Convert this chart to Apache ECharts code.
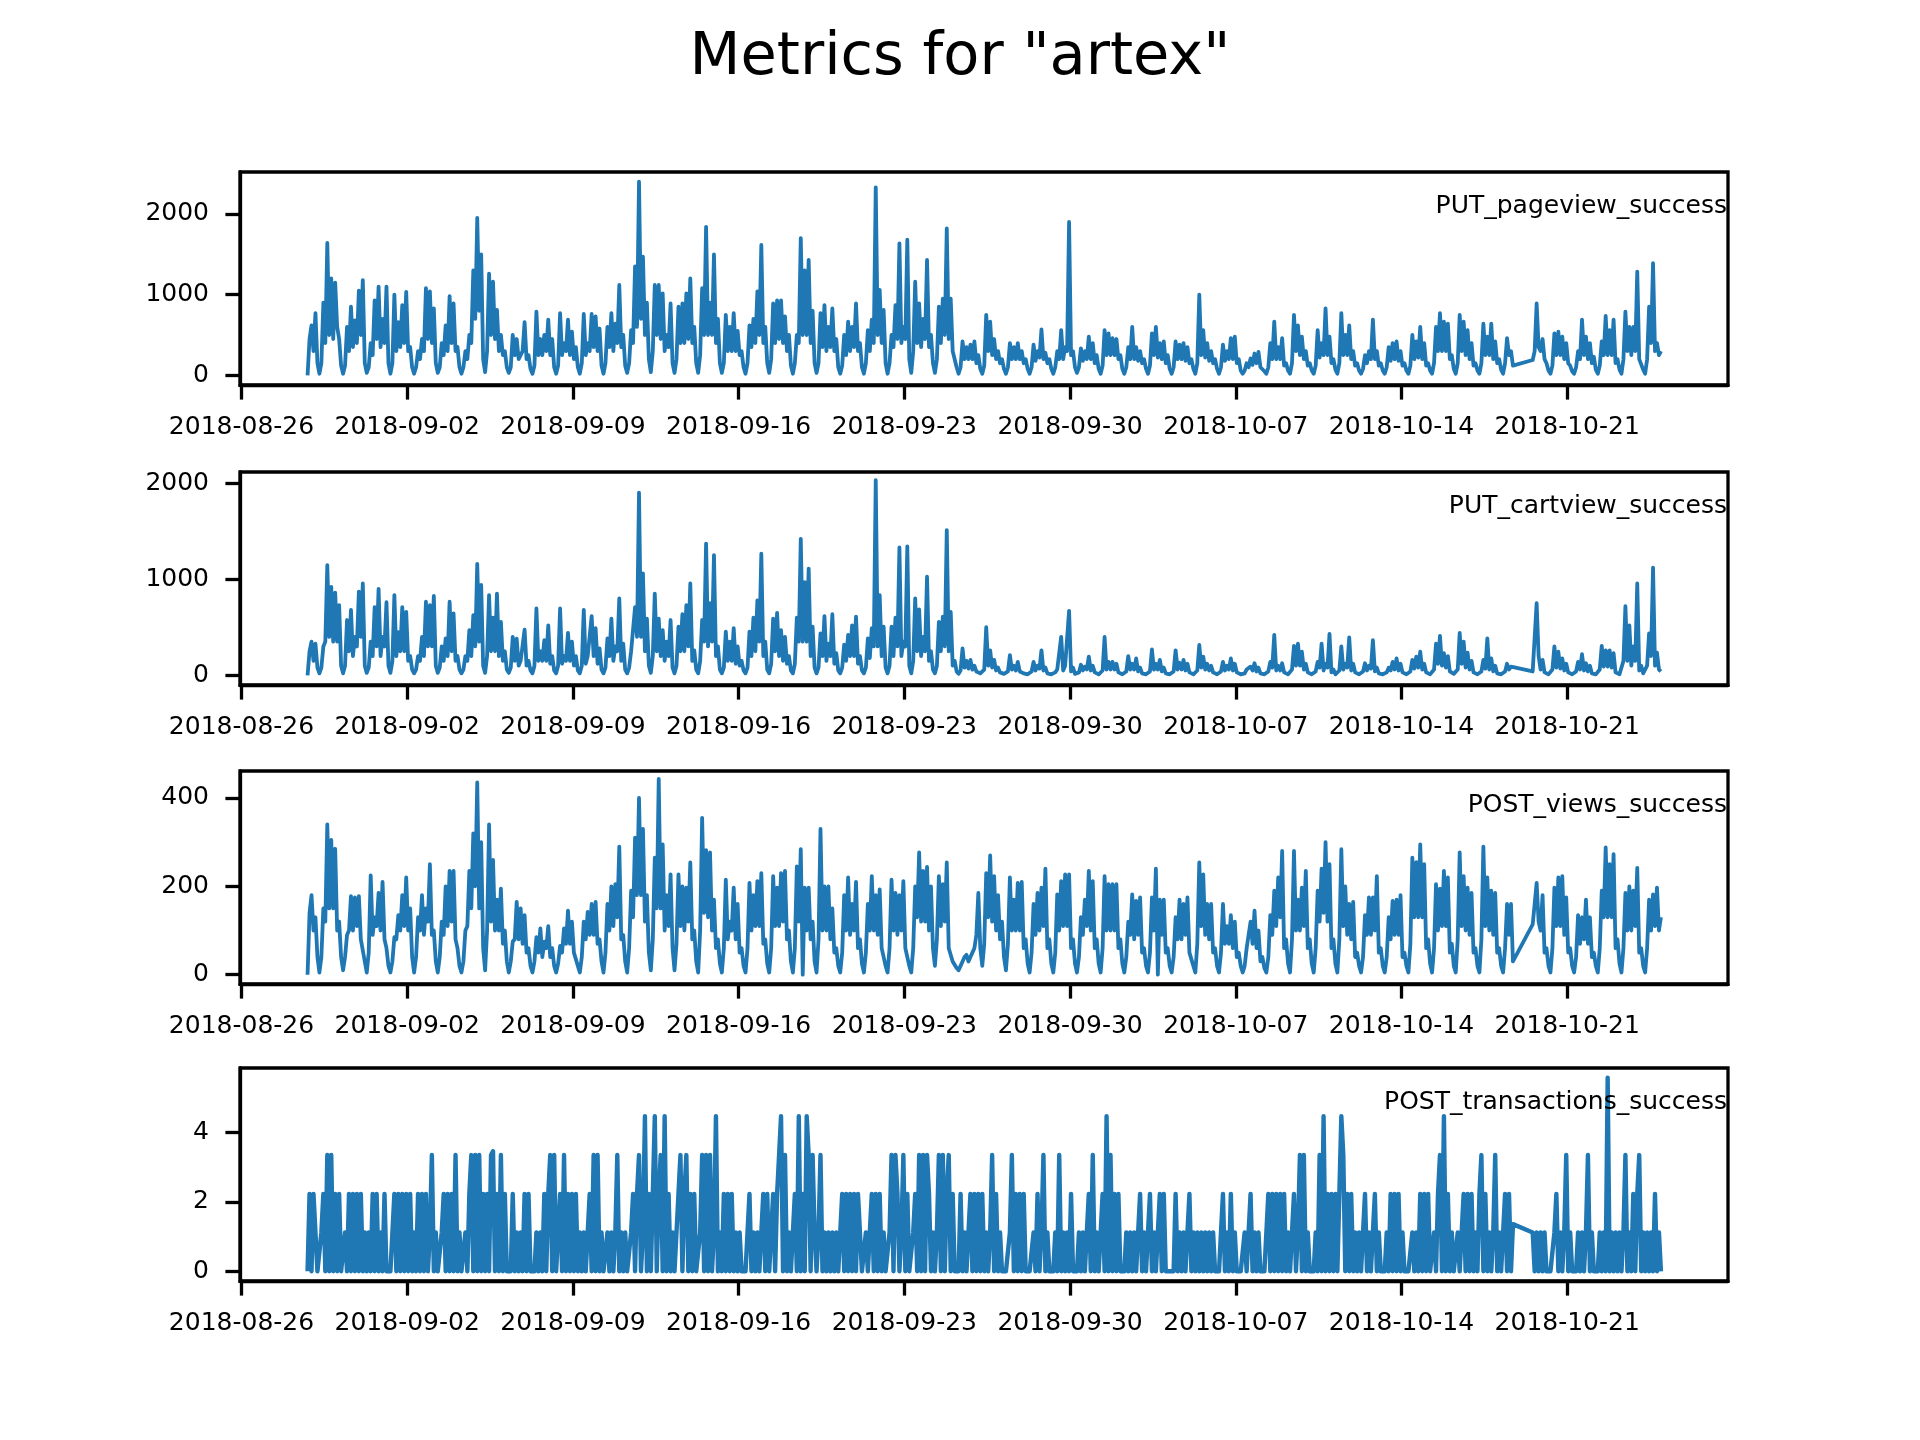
<!DOCTYPE html>
<html>
<head>
<meta charset="utf-8">
<title>Metrics for "artex"</title>
<script src="https://cdn.jsdelivr.net/npm/echarts@6/dist/echarts.min.js"></script>
<style>
html, body { margin: 0; padding: 0; background: #fff; }
#main { width: 1920px; height: 1440px; }
</style>
</head>
<body>
<div id="main"></div>
<script>
// hours counted from 2018-08-26 00:00, first sample 2018-08-28 19:00, one sample every 2 hours
var startHour = 67;
var stepHours = 2;

var weekLabels = ['2018-08-26', '2018-09-02', '2018-09-09', '2018-09-16', '2018-09-23',
                  '2018-09-30', '2018-10-07', '2018-10-14', '2018-10-21'];
var panelNames = ['PUT_pageview_success', 'PUT_cartview_success', 'POST_views_success', 'POST_transactions_success'];

// first row 19h..05h, then one row per day 07h..05h, last row 07h..23h
var pageview = [
  0, 450, 620, 300, 770, 150,
  20, 150, 900, 400, 1640, 500, 1200, 450, 1150, 600, 450, 120,
  20, 120, 600, 300, 850, 350, 680, 400, 1050, 500, 1180, 150,
  30, 100, 400, 250, 930, 450, 1100, 350, 700, 400, 1100, 150,
  20, 150, 1000, 300, 660, 350, 870, 400, 1035, 300, 350, 100,
  20, 100, 300, 200, 450, 300, 1080, 450, 1040, 400, 830, 150,
  30, 100, 400, 250, 620, 300, 980, 400, 890, 300, 350, 100,
  20, 100, 300, 200, 500, 400, 1300, 700, 1950, 800, 1500, 200,
  40, 300, 1260, 500, 1160, 450, 810, 300, 500, 250, 300, 100,
  30, 100, 500, 250, 450, 200, 250, 300, 660, 200, 250, 80,
  20, 120, 790, 250, 450, 250, 500, 300, 690, 250, 450, 100,
  20, 120, 770, 250, 400, 300, 690, 250, 540, 200, 350, 100,
  20, 150, 760, 250, 400, 300, 760, 350, 730, 300, 580, 120,
  20, 150, 600, 350, 770, 300, 640, 400, 1120, 350, 500, 120,
  30, 150, 560, 400, 1350, 600, 2400, 700, 1470, 500, 900, 200,
  40, 300, 1120, 500, 1120, 450, 1015, 300, 500, 350, 890, 150,
  30, 200, 850, 400, 890, 400, 1015, 450, 1200, 400, 600, 150,
  30, 250, 1080, 500, 1840, 500, 900, 500, 1500, 400, 700, 150,
  30, 150, 750, 300, 600, 300, 770, 300, 550, 250, 300, 100,
  20, 150, 620, 350, 700, 400, 1040, 500, 1615, 400, 600, 150,
  30, 200, 890, 400, 930, 450, 930, 400, 730, 300, 500, 120,
  20, 150, 500, 400, 1700, 500, 1300, 500, 1430, 400, 800, 150,
  30, 150, 770, 350, 870, 300, 600, 350, 830, 300, 450, 100,
  20, 120, 500, 250, 665, 300, 600, 350, 890, 300, 400, 100,
  20, 150, 560, 300, 690, 400, 2330, 500, 1060, 400, 810, 150,
  20, 150, 500, 350, 870, 450, 1635, 400, 600, 450, 1680, 200,
  30, 300, 1160, 400, 890, 350, 700, 450, 1430, 350, 500, 150,
  30, 200, 850, 400, 950, 500, 1820, 450, 950, 300, 300, 100,
  20, 100, 420, 200, 350, 200, 380, 200, 420, 150, 250, 80,
  20, 120, 750, 300, 665, 250, 450, 200, 300, 150, 200, 80,
  20, 100, 400, 200, 350, 200, 400, 200, 300, 150, 200, 80,
  20, 100, 380, 180, 300, 220, 570, 200, 280, 150, 200, 80,
  20, 100, 300, 200, 560, 200, 350, 300, 1900, 250, 300, 100,
  30, 100, 335, 180, 300, 200, 480, 200, 400, 150, 250, 80,
  20, 120, 560, 250, 520, 250, 460, 250, 450, 200, 250, 80,
  20, 100, 350, 200, 600, 200, 350, 180, 300, 150, 200, 80,
  20, 120, 520, 250, 600, 220, 400, 200, 420, 150, 250, 80,
  20, 100, 420, 200, 380, 200, 400, 180, 350, 150, 200, 80,
  20, 150, 1000, 250, 560, 220, 400, 180, 300, 150, 200, 80,
  20, 100, 380, 180, 300, 200, 460, 200, 480, 150, 200, 60,
  20, 60, 150, 100, 210, 130, 270, 150, 290, 100, 120, 50,
  20, 100, 400, 200, 665, 200, 350, 200, 460, 120, 150, 60,
  20, 150, 750, 300, 620, 250, 480, 200, 300, 120, 150, 60,
  20, 120, 560, 220, 400, 250, 830, 250, 480, 150, 200, 70,
  20, 150, 770, 250, 500, 250, 620, 200, 300, 120, 150, 60,
  20, 80, 250, 150, 300, 200, 690, 200, 300, 120, 150, 60,
  20, 100, 350, 180, 400, 200, 420, 180, 300, 120, 150, 60,
  20, 120, 500, 200, 420, 220, 600, 200, 400, 120, 150, 60,
  20, 150, 600, 300, 770, 300, 665, 300, 640, 200, 250, 80,
  20, 150, 750, 300, 665, 250, 560, 200, 400, 120, 150, 60,
  20, 150, 640, 250, 480, 250, 640, 200, 420, 150, 200, 70,
  20, 150, 460, 250, 300, 120, null, null, null, null, null, null,
  null, null, null, 190, 300, 890, 350, 300, 450, 200, 150, 60,
  20, 120, 520, 250, 540, 250, 480, 200, 400, 150, 120, 50,
  20, 100, 300, 200, 690, 250, 480, 200, 400, 150, 230, 70,
  20, 120, 420, 250, 735, 250, 560, 250, 690, 150, 200, 70,
  20, 200, 790, 300, 600, 250, 600, 300, 1285, 200, 200, 70,
  20, 200, 850, 400, 1390, 300, 400, 250, 300
];

var cartview = [
  0, 250, 350, 150, 330, 80,
  20, 80, 300, 350, 1145, 400, 920, 350, 860, 350, 730, 100,
  20, 100, 575, 250, 680, 200, 400, 300, 870, 400, 955, 100,
  25, 80, 350, 200, 710, 300, 900, 200, 400, 300, 760, 100,
  25, 150, 835, 200, 450, 250, 710, 250, 660, 150, 200, 60,
  20, 60, 200, 150, 400, 200, 765, 300, 730, 300, 825, 100,
  25, 80, 300, 150, 385, 200, 765, 250, 645, 150, 200, 60,
  20, 60, 200, 150, 470, 200, 625, 300, 1160, 350, 940, 100,
  25, 200, 835, 250, 600, 250, 850, 200, 555, 150, 250, 60,
  25, 80, 400, 150, 380, 100, 150, 150, 475, 100, 150, 50,
  20, 100, 695, 150, 250, 150, 365, 150, 520, 120, 200, 50,
  20, 100, 695, 120, 200, 150, 440, 150, 350, 100, 200, 50,
  20, 100, 680, 120, 200, 200, 615, 200, 490, 120, 280, 60,
  20, 80, 385, 200, 590, 150, 300, 250, 800, 150, 330, 60,
  20, 80, 250, 250, 710, 400, 1900, 400, 1060, 250, 590, 100,
  25, 200, 850, 250, 590, 200, 470, 150, 350, 200, 575, 80,
  20, 100, 505, 250, 635, 250, 730, 300, 955, 150, 260, 60,
  20, 150, 575, 350, 1370, 300, 750, 350, 1250, 200, 300, 60,
  20, 80, 455, 150, 350, 150, 490, 120, 300, 100, 150, 50,
  20, 80, 455, 200, 600, 250, 780, 350, 1265, 200, 350, 60,
  20, 120, 590, 250, 650, 200, 470, 150, 400, 120, 200, 50,
  20, 120, 600, 350, 1420, 350, 970, 350, 1110, 200, 505, 80,
  20, 80, 435, 200, 615, 150, 330, 200, 635, 120, 230, 50,
  20, 80, 320, 150, 420, 200, 520, 200, 610, 120, 200, 50,
  20, 80, 385, 180, 490, 300, 2030, 300, 835, 200, 505, 80,
  20, 100, 505, 200, 600, 300, 1330, 200, 350, 300, 1340, 100,
  20, 150, 800, 250, 685, 200, 400, 250, 1025, 150, 250, 60,
  20, 100, 555, 250, 610, 300, 1510, 250, 660, 100, 150, 40,
  15, 50, 280, 80, 150, 70, 160, 60, 100, 40, 60, 20,
  10, 60, 500, 100, 260, 80, 160, 50, 80, 30, 40, 15,
  10, 40, 210, 60, 100, 50, 140, 40, 60, 20, 30, 10,
  10, 40, 140, 50, 100, 70, 260, 50, 80, 20, 30, 10,
  10, 30, 60, 80, 400, 50, 100, 80, 670, 40, 80, 15,
  10, 30, 110, 50, 90, 60, 195, 50, 100, 30, 40, 10,
  10, 50, 400, 60, 140, 60, 140, 60, 120, 30, 40, 10,
  10, 40, 200, 60, 120, 60, 175, 40, 80, 20, 30, 10,
  10, 40, 270, 60, 120, 60, 160, 40, 80, 20, 30, 10,
  10, 40, 260, 60, 130, 60, 160, 50, 120, 30, 40, 10,
  10, 50, 315, 80, 195, 60, 120, 50, 100, 30, 40, 10,
  10, 40, 140, 50, 100, 60, 175, 50, 120, 30, 40, 10,
  10, 20, 60, 40, 90, 50, 125, 40, 80, 20, 30, 10,
  10, 40, 140, 80, 420, 50, 100, 50, 125, 30, 40, 10,
  10, 60, 305, 100, 330, 100, 245, 60, 120, 30, 40, 10,
  10, 40, 140, 80, 330, 50, 120, 80, 430, 30, 60, 10,
  10, 50, 300, 60, 120, 80, 395, 50, 120, 30, 40, 10,
  10, 40, 125, 50, 100, 70, 365, 40, 80, 20, 30, 10,
  10, 30, 80, 50, 140, 60, 175, 50, 120, 30, 40, 10,
  10, 40, 160, 70, 195, 80, 245, 60, 120, 30, 40, 10,
  10, 60, 330, 120, 410, 100, 230, 80, 200, 40, 50, 15,
  10, 60, 440, 120, 350, 80, 235, 60, 150, 30, 40, 10,
  10, 40, 160, 70, 385, 60, 175, 40, 100, 20, 30, 10,
  10, 40, 120, 60, 90, 70, null, null, null, null, null, null,
  null, null, null, 40, 60, 750, 200, 60, 160, 30, 40, 10,
  10, 60, 300, 80, 245, 70, 175, 50, 120, 30, 40, 10,
  10, 40, 140, 60, 220, 50, 125, 40, 100, 20, 30, 10,
  10, 60, 305, 90, 260, 90, 260, 80, 230, 30, 40, 10,
  10, 150, 720, 150, 520, 100, 300, 150, 955, 50, 100, 20,
  10, 100, 435, 200, 1120, 100, 235, 60, 40
];

var views = [
  0, 140, 180, 100, 130, 40,
  5, 40, 150, 120, 340, 150, 305, 150, 285, 100, 120, 40,
  10, 40, 90, 100, 178, 100, 175, 110, 178, 80, 80, 30,
  5, 50, 225, 90, 130, 110, 185, 100, 210, 80, 60, 20,
  5, 30, 85, 80, 135, 100, 180, 110, 220, 100, 150, 40,
  5, 40, 130, 100, 180, 90, 150, 120, 250, 90, 100, 30,
  5, 40, 120, 90, 200, 110, 235, 120, 235, 80, 60, 20,
  5, 30, 100, 110, 235, 150, 320, 200, 435, 150, 300, 60,
  10, 100, 340, 120, 260, 100, 170, 100, 195, 70, 100, 30,
  5, 30, 75, 80, 165, 80, 150, 70, 135, 50, 60, 20,
  5, 30, 85, 50, 105, 40, 75, 60, 110, 40, 60, 20,
  5, 25, 65, 50, 105, 70, 145, 70, 120, 50, 50, 20,
  5, 40, 120, 80, 142, 90, 160, 90, 165, 70, 80, 30,
  5, 50, 160, 100, 200, 110, 205, 130, 290, 80, 90, 30,
  5, 60, 190, 130, 310, 180, 400, 180, 330, 120, 180, 50,
  10, 80, 265, 150, 443, 150, 295, 100, 180, 110, 227, 60,
  10, 70, 227, 110, 200, 100, 197, 120, 254, 80, 100, 30,
  5, 100, 355, 140, 282, 130, 277, 100, 170, 60, 80, 25,
  5, 60, 215, 80, 120, 100, 197, 80, 160, 50, 60, 20,
  5, 60, 208, 100, 180, 110, 212, 110, 230, 70, 80, 25,
  5, 60, 223, 110, 197, 110, 230, 120, 235, 80, 100, 30,
  5, 60, 245, 120, 284, 0, 197, 100, 197, 80, 120, 30,
  5, 80, 330, 100, 200, 100, 200, 80, 150, 50, 60, 20,
  5, 50, 180, 100, 220, 90, 160, 100, 210, 60, 80, 25,
  5, 50, 160, 100, 223, 100, 180, 90, 193, 60, 60, 20,
  5, 60, 215, 100, 185, 90, 180, 100, 212, 60, 60, 20,
  5, 60, 200, 130, 277, 120, 235, 120, 244, 100, 200, 60,
  20, 80, 223, 110, 205, 120, 254, 60, 60, 30, 30, 15,
  10, 20, 30, 40, 45, 30, 40, 50, 60, 90, 185, 60,
  20, 70, 230, 130, 270, 120, 223, 100, 180, 80, 120, 40,
  10, 70, 220, 100, 170, 100, 208, 100, 210, 60, 80, 25,
  5, 50, 160, 90, 185, 100, 197, 110, 240, 60, 80, 25,
  5, 50, 182, 100, 212, 110, 227, 110, 227, 60, 80, 25,
  5, 40, 130, 90, 170, 110, 235, 100, 212, 60, 80, 25,
  5, 60, 223, 100, 205, 100, 205, 100, 205, 60, 80, 25,
  5, 40, 120, 90, 182, 80, 167, 90, 175, 50, 60, 20,
  5, 50, 175, 100, 240, 0, 170, 90, 170, 50, 60, 20,
  5, 40, 130, 80, 170, 80, 160, 90, 175, 50, 50, 20,
  5, 70, 254, 110, 227, 90, 160, 80, 160, 50, 60, 20,
  5, 50, 160, 70, 110, 70, 135, 60, 120, 40, 50, 20,
  5, 20, 60, 60, 120, 70, 145, 60, 100, 30, 40, 15,
  5, 40, 135, 90, 190, 110, 220, 130, 280, 60, 80, 25,
  5, 80, 280, 100, 170, 100, 197, 110, 235, 60, 80, 25,
  5, 60, 190, 120, 240, 140, 300, 120, 250, 60, 80, 25,
  5, 80, 284, 110, 200, 90, 160, 80, 165, 40, 50, 20,
  5, 40, 135, 90, 175, 90, 175, 100, 223, 50, 60, 20,
  5, 40, 130, 80, 167, 90, 170, 90, 180, 40, 50, 20,
  5, 70, 265, 130, 255, 130, 295, 130, 250, 60, 80, 25,
  5, 60, 205, 100, 195, 110, 235, 110, 220, 50, 70, 20,
  5, 80, 277, 110, 223, 100, 197, 90, 185, 50, 60, 20,
  5, 80, 290, 110, 220, 100, 190, 90, 185, 50, 60, 20,
  5, 60, 160, 90, 160, 30, null, null, null, null, null, null,
  null, null, null, 114, 160, 208, 120, 100, 180, 50, 60, 20,
  5, 60, 197, 110, 220, 110, 223, 90, 175, 50, 60, 20,
  5, 40, 135, 70, 130, 80, 170, 70, 130, 40, 50, 20,
  5, 60, 190, 130, 288, 130, 250, 130, 273, 60, 80, 25,
  5, 60, 185, 100, 200, 100, 190, 110, 242, 50, 60, 20,
  5, 60, 170, 100, 182, 110, 197, 100, 130
];

var transactions = [
  0, 2.23, 0, 2.23, 1.12, 0,
  0, 1.12, 2.23, 0, 3.35, 0, 3.35, 0, 2.23, 0, 2.23, 0,
  0, 1.12, 0, 2.23, 0, 2.23, 0, 2.23, 0, 2.23, 0, 1.12,
  0, 1.12, 0, 2.23, 0, 2.23, 0, 1.12, 0, 2.23, 0, 0,
  0, 0, 2.23, 0, 2.23, 0, 2.23, 0, 2.23, 0, 2.23, 0,
  1.12, 0, 2.23, 0, 2.23, 0, 2.23, 0, 1.12, 3.35, 0, 1.12,
  0, 0, 1.12, 2.23, 0, 2.23, 0, 2.23, 0, 3.35, 0, 1.12,
  0, 0, 1.12, 0, 2.23, 3.35, 0, 3.35, 0, 3.35, 0, 2.23,
  0, 2.23, 0, 3.35, 3.46, 0, 2.23, 0, 3.35, 0, 2.23, 0,
  0, 0, 2.23, 0, 1.12, 0, 1.12, 0, 2.23, 0, 2.23, 0,
  0, 0, 1.12, 0, 1.12, 0, 2.23, 0, 2.23, 3.35, 0, 3.35,
  0, 0, 2.23, 0, 3.35, 0, 2.23, 0, 2.23, 0, 2.23, 0,
  1.12, 0, 1.12, 0, 1.12, 2.23, 0, 3.35, 0, 3.35, 0, 1.12,
  0, 0, 1.12, 0, 1.12, 0, 1.12, 3.35, 0, 1.12, 0, 1.12,
  0, 0, 1.12, 2.23, 0, 2.23, 3.35, 0, 1.12, 4.47, 0, 2.23,
  0, 2.23, 4.47, 0, 2.23, 3.35, 0, 4.47, 0, 2.23, 0, 1.12,
  0, 0, 2.23, 3.35, 0, 2.23, 3.35, 0, 2.23, 0, 2.23, 0,
  0, 1.12, 3.35, 0, 3.35, 0, 3.35, 0, 1.12, 4.47, 0, 1.12,
  0, 2.23, 0, 2.23, 0, 2.23, 0, 1.12, 0, 1.12, 0, 0,
  0, 1.12, 2.23, 0, 1.12, 0, 1.12, 0, 1.12, 2.23, 0, 2.23,
  0, 0, 2.23, 0, 2.23, 3.35, 4.47, 0, 3.35, 0, 1.12, 0,
  0, 2.23, 0, 4.47, 0, 2.23, 0, 4.47, 3.35, 0, 3.35, 1.12,
  0, 1.12, 3.35, 0, 1.12, 0, 1.12, 0, 1.12, 0, 1.12, 0,
  0, 2.23, 0, 2.23, 0, 2.23, 0, 2.23, 0, 2.23, 1.12, 0,
  0, 1.12, 0, 1.12, 2.23, 0, 2.23, 0, 2.23, 0, 1.12, 0,
  0, 1.12, 3.35, 0, 3.35, 2.23, 0, 1.12, 3.35, 0, 2.23, 0,
  0, 1.12, 2.23, 0, 3.35, 0, 3.35, 0, 3.35, 2.23, 0, 1.12,
  0, 1.12, 3.35, 0, 3.35, 0, 2.23, 3.35, 0, 2.23, 0, 0,
  0, 2.23, 0, 1.12, 0, 1.12, 2.23, 0, 2.23, 0, 2.23, 0,
  2.23, 0, 1.12, 0, 1.12, 3.35, 0, 2.23, 0, 1.12, 0, 0,
  0, 0, 1.12, 3.35, 0, 2.23, 0, 2.23, 0, 2.23, 0, 0,
  0, 0, 1.12, 0, 2.23, 0, 1.12, 3.35, 0, 1.12, 0, 0,
  0, 1.12, 0, 3.35, 0, 1.12, 0, 1.12, 0, 2.23, 0, 0,
  0, 1.12, 0, 1.12, 0, 1.12, 2.23, 0, 3.35, 0, 1.12, 0,
  0, 2.23, 0, 4.47, 0, 3.35, 0, 2.23, 0, 2.23, 0, 0,
  0, 1.12, 0, 1.12, 0, 1.12, 0, 1.12, 2.23, 0, 1.12, 0,
  0, 2.23, 0, 1.12, 0, 1.12, 2.23, 0, 2.23, 0, 0, 0,
  0, 0, 2.23, 0, 1.12, 0, 1.12, 0, 1.12, 2.23, 0, 1.12,
  0, 1.12, 0, 1.12, 0, 1.12, 0, 1.12, 0, 1.12, 0, 0,
  0, 1.12, 2.23, 0, 1.12, 0, 2.23, 0, 1.12, 0, 0, 0,
  0, 1.12, 0, 1.12, 2.23, 0, 1.12, 0, 1.12, 0, 0, 0,
  0, 2.23, 0, 2.23, 0, 2.23, 0, 2.23, 0, 2.23, 0, 1.12,
  0, 1.12, 2.23, 0, 1.12, 3.35, 0, 3.35, 0, 1.12, 0, 0,
  0, 1.12, 0, 3.35, 0, 4.47, 0, 2.23, 0, 2.23, 0, 2.23,
  0, 2.23, 4.47, 3.35, 0, 2.23, 0, 2.23, 0, 1.12, 0, 1.12,
  0, 1.12, 2.23, 0, 1.12, 0, 1.12, 2.23, 0, 1.12, 0, 0,
  0, 1.12, 0, 2.23, 0, 2.23, 0, 2.23, 0, 1.12, 0, 0,
  0, 0, 1.12, 0, 1.12, 0, 2.23, 0, 2.23, 0, 2.23, 0,
  0, 1.12, 0, 2.23, 3.35, 0, 4.47, 0, 2.23, 0, 1.12, 0,
  0, 1.12, 0, 1.12, 2.23, 0, 2.23, 0, 2.23, 0, 1.12, 0,
  2.23, 3.35, 0, 2.23, 0, 1.12, 0, 1.12, 3.35, 0, 1.12, 0,
  0, 2.23, 0, 2.23, 0, 1.36, null, null, null, null, null, null,
  null, null, null, 1.12, 0, 1.12, 0, 1.12, 0, 1.12, 0, 0,
  0, 0, 1.12, 2.23, 0, 1.12, 0, 1.12, 3.35, 0, 1.12, 0,
  0, 0, 1.12, 0, 1.12, 0, 1.12, 3.35, 0, 1.12, 0, 0,
  0, 1.12, 0, 1.12, 0, 5.58, 0, 1.12, 0, 1.12, 0, 1.12,
  0, 1.12, 3.35, 0, 1.12, 0, 2.23, 0, 2.23, 3.35, 0, 1.12,
  0, 1.12, 0, 1.12, 0, 2.23, 0, 1.12, 0
];

var yRanges = [[-120, 2520], [-101, 2115], [-21, 461], [-0.28, 5.86]];
var yTickValues = [[0, 1000, 2000], [0, 1000, 2000], [0, 200, 400], [0, 2, 4]];
var seriesValues = [pageview, cartview, views, transactions];
var lineWidths = [3.8, 3.8, 3.8, 4.4];

var panelTops = [172, 472, 771, 1068];
var panelHeight = 213;
var font = 'DejaVu Sans';
var blue = '#1f77b4';

var weekHours = weekLabels.map(function (d, i) { return i * 168; });

function toPoints(values) {
	return values.map(function (v, i) { return [startHour + i * stepHours, v]; });
}

var grids = [], xAxes = [], yAxes = [], series = [];
var titles = [{
	text: 'Metrics for "artex"',
	left: 'center',
	top: 29,
	padding: 0,
	textStyle: { fontSize: 59, fontWeight: 'normal', color: '#000', fontFamily: font }
}];

for (var i = 0; i < 4; i++) {
	grids.push({
		left: 240, right: 192, top: panelTops[i], height: panelHeight,
		show: true, borderColor: '#000', borderWidth: 3.3, backgroundColor: 'transparent'
	});
	xAxes.push({
		type: 'value', gridIndex: i, min: -1.5, max: 1507,
		axisLine: { show: true, onZero: false, lineStyle: { color: '#000', width: 3.3 } },
		axisTick: { show: true, customValues: weekHours, length: 14.6, lineStyle: { color: '#000', width: 3.3 } },
		axisLabel: {
			show: true, customValues: weekHours, margin: 30,
			fontSize: 25, color: '#000', fontFamily: font,
			formatter: function (v) { return weekLabels[Math.round(v / 168)] || ''; }
		},
		splitLine: { show: false }
	});
	yAxes.push({
		type: 'value', gridIndex: i, min: yRanges[i][0], max: yRanges[i][1],
		axisLine: { show: true, onZero: false, lineStyle: { color: '#000', width: 3.3 } },
		axisTick: { show: true, customValues: yTickValues[i], length: 14.6, lineStyle: { color: '#000', width: 3.3 } },
		axisLabel: {
			show: true, customValues: yTickValues[i], margin: 31,
			fontSize: 25, color: '#000', fontFamily: font,
			formatter: function (v) { return String(v); }
		},
		splitLine: { show: false }
	});
	series.push({
		name: panelNames[i],
		type: 'line', xAxisIndex: i, yAxisIndex: i,
		data: toPoints(seriesValues[i]),
		showSymbol: false, symbol: 'none', connectNulls: true, silent: true,
		lineStyle: { color: blue, width: lineWidths[i], join: 'round' }
	});
	titles.push({
		text: panelNames[i],
		right: 193,
		top: panelTops[i] + 21.5,
		padding: 0,
		textStyle: { fontSize: 25, fontWeight: 'normal', color: '#000', fontFamily: font }
	});
}

var myChart = echarts.init(document.getElementById('main'));
var option = {
	backgroundColor: '#fff',
	animation: false,
	title: titles,
	grid: grids,
	xAxis: xAxes,
	yAxis: yAxes,
	series: series
};
myChart.setOption(option);
</script>
</body>
</html>
